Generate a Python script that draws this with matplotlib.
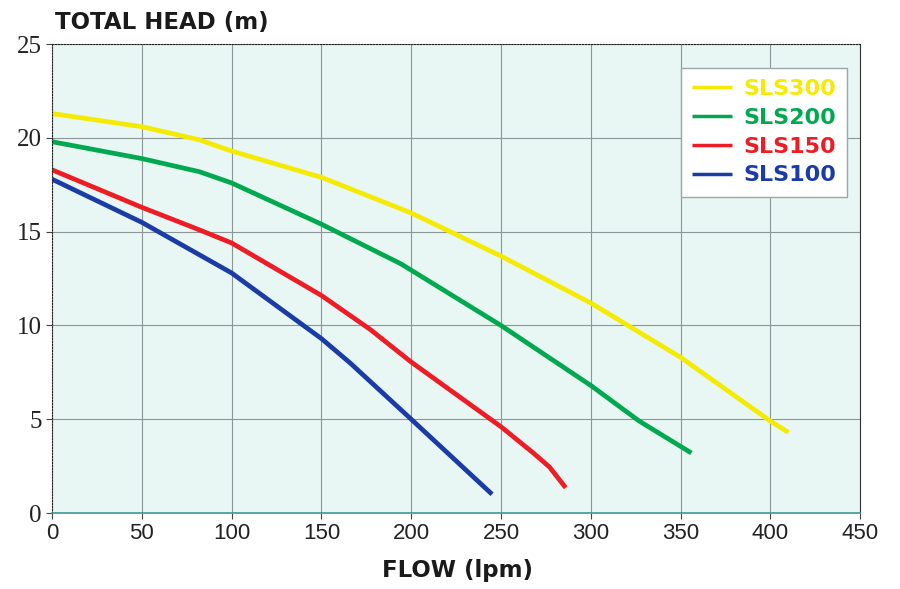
import matplotlib.pyplot as plt

# flow (lpm) vs total head (m) for each pump
flow_300 = [0, 50, 82, 100, 150, 200, 250, 300, 350, 400, 410]
head_300 = [21.3, 20.6, 19.9, 19.3, 17.9, 16.0, 13.7, 11.2, 8.3, 4.9, 4.3]

flow_200 = [0, 50, 82, 100, 150, 194, 200, 250, 300, 327, 356]
head_200 = [19.8, 18.9, 18.2, 17.6, 15.4, 13.3, 12.95, 10.0, 6.8, 4.9, 3.2]

flow_150 = [0, 50, 82, 100, 150, 177, 200, 250, 268, 277, 286]
head_150 = [18.3, 16.3, 15.1, 14.4, 11.6, 9.8, 8.05, 4.6, 3.2, 2.45, 1.35]

flow_100 = [0, 50, 100, 150, 166, 200, 245]
head_100 = [17.8, 15.5, 12.8, 9.3, 8.0, 5.0, 1.0]

names = ['SLS300', 'SLS200', 'SLS150', 'SLS100']
colors = ['#f5eb00', '#00a94f', '#ee1c25', '#1b3ba6']

fig = plt.figure(figsize=(9, 5.89), dpi=100)
ax = fig.add_axes([0.0578, 0.129, 0.898, 0.796])
ax.set_facecolor('#e8f6f4')

series = [(flow_300, head_300), (flow_200, head_200), (flow_150, head_150), (flow_100, head_100)]
for (x, y), name, c in zip(series, names, colors):
    ax.plot(x, y, color=c, lw=3.4, label=name, solid_capstyle='butt', solid_joinstyle='round')

ax.set_xlim(0, 450)
ax.set_ylim(0, 25)
ax.set_xticks(range(0, 451, 50))
ax.set_yticks(range(0, 26, 5))
ax.grid(True, color='#8c9696', lw=0.8)
ax.set_axisbelow(True)

ax.tick_params(axis='both', length=4, width=0.8, color='#444444')
for lab in ax.get_xticklabels():
    lab.set_fontfamily('Liberation Sans')
    lab.set_fontsize(16)
    lab.set_color('#222222')
for lab in ax.get_yticklabels():
    lab.set_fontfamily('Liberation Serif')
    lab.set_fontsize(18)
    lab.set_color('#222222')

ax.spines['left'].set_linestyle(':')
ax.spines['left'].set_color('#222222')
ax.spines['top'].set_linestyle(':')
ax.spines['top'].set_color('#222222')
ax.spines['right'].set_color('#333333')
ax.spines['bottom'].set_color('#3a9a94')
ax.spines['bottom'].set_linewidth(1.2)

leg = ax.legend(loc='upper right', bbox_to_anchor=(0.984, 0.95), borderaxespad=0,
                frameon=True, fancybox=False, handlelength=1.8, handletextpad=0.5,
                labelspacing=0.4, borderpad=0.5,
                prop={'family': 'DejaVu Sans', 'weight': 'bold', 'size': 16})
leg.get_frame().set_edgecolor('#9aa8a8')
leg.get_frame().set_facecolor('white')
leg.get_frame().set_alpha(1)
for line in leg.get_lines():
    line.set_linewidth(2.5)
for txt, c in zip(leg.get_texts(), colors):
    txt.set_color(c)

fig.text(55 / 900, 1 - 22 / 589, 'TOTAL HEAD (m)', fontsize=16.5, fontweight='heavy',
         family='DejaVu Sans', va='center', ha='left', color='#1a1a1a')
fig.text(457 / 900, 1 - 571 / 589, 'FLOW (lpm)', fontsize=16.5, fontweight='heavy',
         family='DejaVu Sans', va='center', ha='center', color='#1a1a1a')

fig.savefig('out.png', dpi=100)
